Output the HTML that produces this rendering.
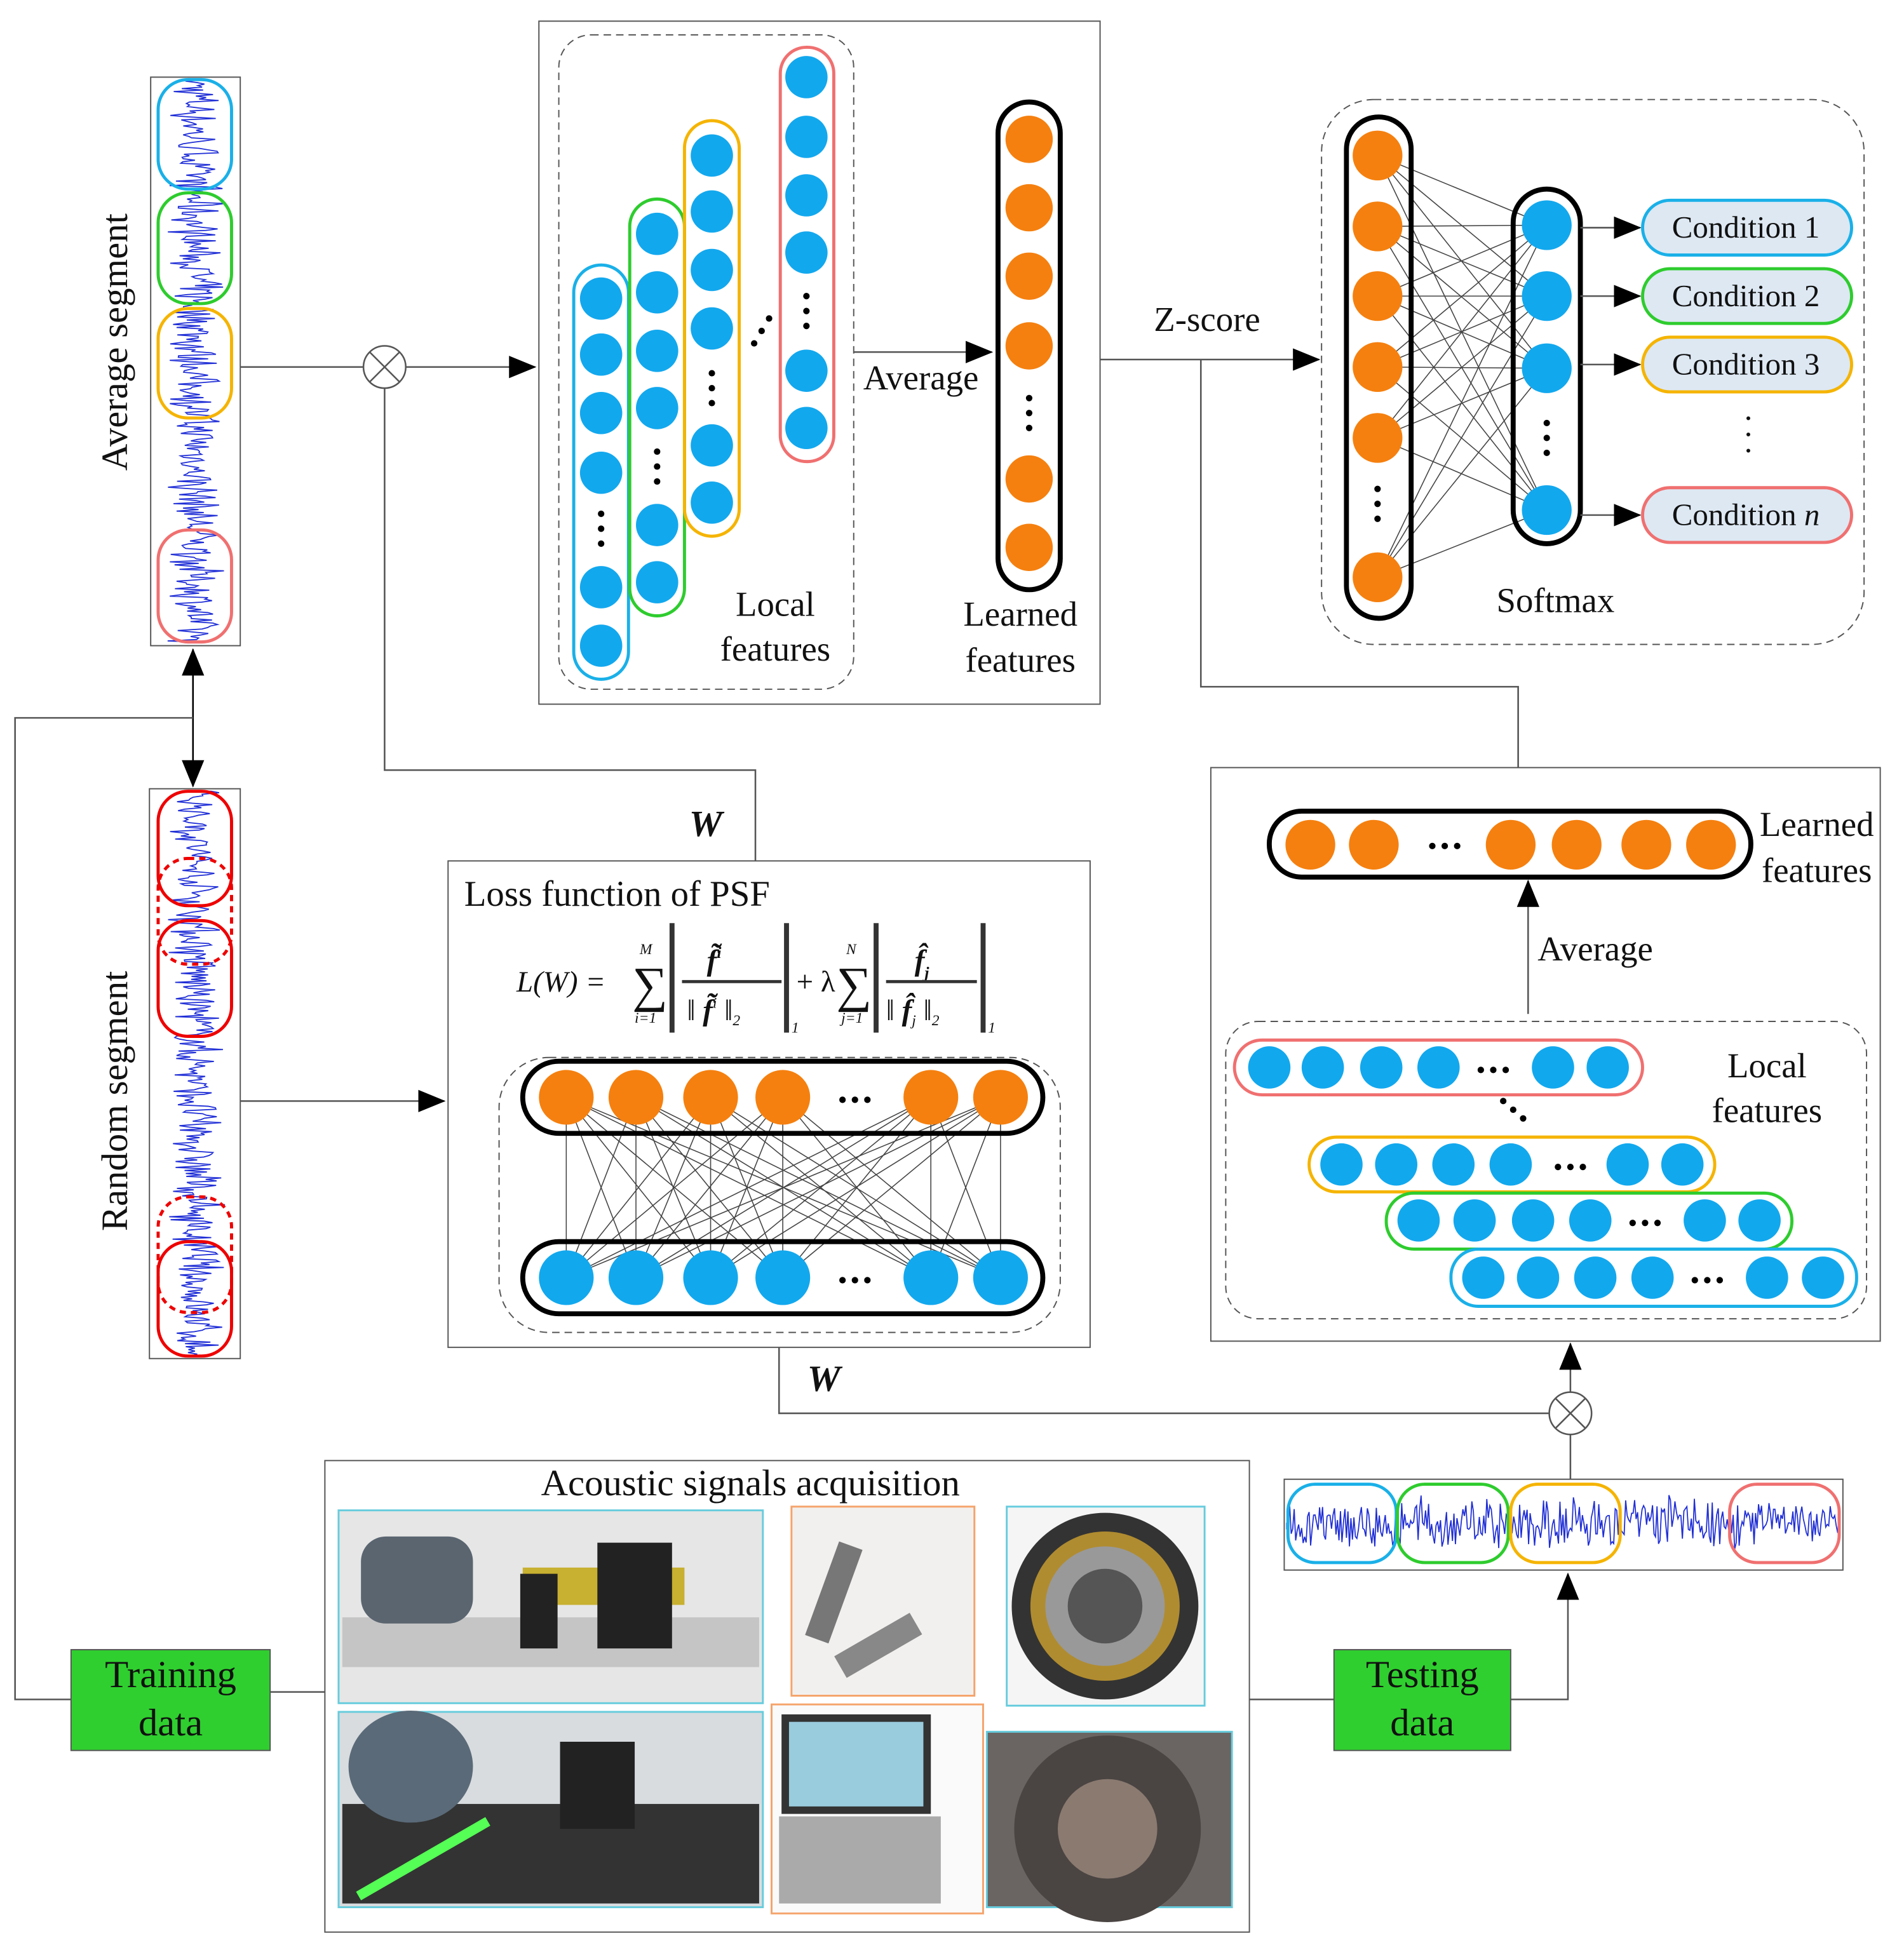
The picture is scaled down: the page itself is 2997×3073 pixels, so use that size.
<!DOCTYPE html>
<html><head><meta charset="utf-8"><style>
html,body{margin:0;padding:0;background:#fff}
svg{display:block}
text{font-family:"Liberation Serif",serif;fill:#111}
</style></head><body>
<svg id="s" width="2997" height="3073" viewBox="0 0 1530 1569" xmlns="http://www.w3.org/2000/svg" font-family="Liberation Serif, serif">
<defs>
<marker id="ab" markerWidth="22" markerHeight="18" refX="21" refY="9" orient="auto" markerUnits="userSpaceOnUse"><path d="M0,0 L22,9 L0,18 Z" fill="#000"/></marker>
</defs>
<rect width="1530" height="1569" fill="#fff"/>
<g id="lines" stroke="#555" stroke-width="1.3" fill="none">
<line x1="193" y1="295" x2="292" y2="295"/>
<line x1="326" y1="295" x2="430" y2="295" marker-end="url(#ab)"/>
<polyline points="309,312 309,619 607,619 607,692"/>
<line x1="155" y1="522" x2="155" y2="632" stroke="#000" marker-end="url(#ab)"/>
<line x1="155" y1="632" x2="155" y2="522" stroke="#000" marker-end="url(#ab)"/>
<polyline points="155,577 12,577 12,1366 57,1366"/>
<line x1="193" y1="885" x2="357" y2="885" marker-end="url(#ab)"/>
<line x1="686" y1="283" x2="797" y2="283" marker-end="url(#ab)"/>
<line x1="884" y1="289" x2="1060" y2="289" marker-end="url(#ab)"/>
<polyline points="965,289 965,552 1220,552 1220,617"/>
<polyline points="626,1083 626,1136 1245,1136"/>
<line x1="1262" y1="1119" x2="1262" y2="1080" marker-end="url(#ab)"/>
<line x1="1262" y1="1153" x2="1262" y2="1189"/>
<polyline points="1214,1366 1260,1366 1260,1265" marker-end="url(#ab)"/>
<line x1="1004" y1="1366" x2="1072" y2="1366"/>
<line x1="217" y1="1360" x2="261" y2="1360"/>
</g>
<g stroke="#555" stroke-width="1.3" fill="#fff">
<circle cx="309" cy="295" r="17"/><path d="M297,283 L321,307 M321,283 L297,307"/>
<circle cx="1262" cy="1136" r="17"/><path d="M1250,1124 L1274,1148 M1274,1124 L1250,1148"/>
</g>
<rect x="121" y="62" width="72" height="457" fill="#fff" stroke="#555"/>
<rect x="120" y="634" width="73" height="458" fill="#fff" stroke="#555"/>
<rect x="1032" y="1189" width="449" height="73" fill="#fff" stroke="#555"/>
<g id="waves" fill="none" stroke="#1f2ed6" stroke-width="0.9"></g>
<g fill="none" stroke-width="2.5">
<rect x="127" y="64" width="59" height="88" rx="24" stroke="#1ab0e8"/>
<rect x="127" y="155" width="59" height="89" rx="24" stroke="#2ecc2e"/>
<rect x="127" y="248" width="59" height="88" rx="24" stroke="#f5b400"/>
<rect x="127" y="426" width="59" height="90" rx="24" stroke="#f07070"/>
<rect x="127" y="636" width="59" height="92" rx="24" stroke="#e00"/>
<rect x="127" y="740" width="59" height="93" rx="24" stroke="#e00"/>
<rect x="127" y="998" width="59" height="92" rx="24" stroke="#e00"/>
<rect x="127" y="690" width="59" height="85" rx="24" stroke="#e00" stroke-dasharray="5,4"/>
<rect x="127" y="962" width="59" height="93" rx="24" stroke="#e00" stroke-dasharray="5,4"/>
<rect x="1035" y="1193" width="87" height="63" rx="22" stroke="#1ab0e8"/>
<rect x="1123" y="1193" width="89" height="63" rx="22" stroke="#2ecc2e"/>
<rect x="1214" y="1193" width="88" height="63" rx="22" stroke="#f5b400"/>
<rect x="1390" y="1193" width="88" height="63" rx="22" stroke="#f07070"/>
</g>
<text transform="translate(102,275) rotate(-90)" font-size="30" text-anchor="middle">Average segment</text>
<text transform="translate(102,885) rotate(-90)" font-size="30" text-anchor="middle">Random segment</text>
<rect x="433" y="17" width="451" height="549" fill="none" stroke="#555"/>
<rect x="449" y="28" width="237" height="526" rx="26" fill="none" stroke="#555" stroke-dasharray="6,4"/>
<g fill="none" stroke-width="2.5">
<rect x="461" y="213" width="44" height="333" rx="22" stroke="#1ab0e8"/>
<rect x="506" y="160" width="44" height="335" rx="22" stroke="#2ecc2e"/>
<rect x="550" y="97" width="44" height="334" rx="22" stroke="#f5b400"/>
<rect x="627" y="38" width="43" height="333" rx="21" stroke="#f07070"/>
</g>
<g id="circ"></g>
<text x="623" y="495" font-size="28" text-anchor="middle">Local</text>
<text x="623" y="531" font-size="28" text-anchor="middle">features</text>
<text x="740" y="313" font-size="28" text-anchor="middle">Average</text>
<rect x="802" y="82" width="50" height="392" rx="25" fill="none" stroke="#000" stroke-width="4"/>
<text x="820" y="503" font-size="28" text-anchor="middle">Learned</text>
<text x="820" y="540" font-size="28" text-anchor="middle">features</text>
<text x="970" y="266" font-size="28" text-anchor="middle">Z-score</text>
<rect x="1062" y="80" width="436" height="438" rx="42" fill="none" stroke="#555" stroke-dasharray="6,4"/>
<g id="fc" stroke="#444" stroke-width="0.8"></g>
<rect x="1082" y="94" width="52" height="403" rx="26" fill="none" stroke="#000" stroke-width="4"/>
<rect x="1216" y="152" width="54" height="285" rx="27" fill="none" stroke="#000" stroke-width="4"/>
<g stroke="#555" stroke-width="1.3">
<line x1="1270" y1="183" x2="1318" y2="183" marker-end="url(#ab)"/>
<line x1="1270" y1="238" x2="1318" y2="238" marker-end="url(#ab)"/>
<line x1="1270" y1="293" x2="1318" y2="293" marker-end="url(#ab)"/>
<line x1="1270" y1="414" x2="1318" y2="414" marker-end="url(#ab)"/>
</g>
<g stroke-width="2.5" fill="#dde8f3">
<rect x="1320" y="161" width="168" height="44" rx="22" stroke="#1ab0e8"/>
<rect x="1320" y="216" width="168" height="44" rx="22" stroke="#2ecc2e"/>
<rect x="1320" y="271" width="168" height="44" rx="22" stroke="#f5b400"/>
<rect x="1320" y="392" width="168" height="44" rx="22" stroke="#f07070"/>
</g>
<g font-size="25" text-anchor="middle">
<text x="1403" y="191">Condition 1</text>
<text x="1403" y="246">Condition 2</text>
<text x="1403" y="301">Condition 3</text>
<text x="1403" y="422">Condition <tspan font-style="italic">n</tspan></text>
</g>
<text x="1405" y="345" font-size="26" text-anchor="middle">·</text>
<text x="1405" y="358" font-size="26" text-anchor="middle">·</text>
<text x="1405" y="371" font-size="26" text-anchor="middle">·</text>
<text x="1250" y="492" font-size="28" text-anchor="middle">Softmax</text>
<text x="567" y="672" font-size="30" font-weight="bold" font-style="italic" text-anchor="middle">W</text>
<text x="662" y="1118" font-size="30" font-weight="bold" font-style="italic" text-anchor="middle">W</text>
<rect x="360" y="692" width="516" height="391" fill="#fff" stroke="#555"/>
<text x="373" y="728" font-size="29">Loss function of PSF</text>
<g font-style="italic" font-size="24">
<text x="415" y="797">L(W) =</text>
<text x="508" y="805" font-size="40" font-style="normal">∑</text>
<text x="514" y="767" font-size="12">M</text>
<text x="510" y="822" font-size="12">i=1</text>
<line x1="540" y1="742" x2="540" y2="830" stroke="#333" stroke-width="4"/>
<text x="568" y="780" font-weight="bold">f̃<tspan font-size="13" dy="-10">i</tspan></text>
<line x1="548" y1="789" x2="628" y2="789" stroke="#333" stroke-width="2.5"/>
<text x="552" y="820">‖ <tspan font-weight="bold">f̃</tspan><tspan font-size="12" dy="-10">i</tspan><tspan dy="10"> ‖</tspan><tspan font-size="12" dy="4">2</tspan></text>
<line x1="632" y1="742" x2="632" y2="830" stroke="#333" stroke-width="4"/>
<text x="636" y="830" font-size="12">1</text>
<text x="640" y="797" font-style="normal">+ λ</text>
<text x="672" y="805" font-size="40" font-style="normal">∑</text>
<text x="680" y="767" font-size="12">N</text>
<text x="676" y="822" font-size="12">j=1</text>
<line x1="704" y1="742" x2="704" y2="830" stroke="#333" stroke-width="4"/>
<text x="735" y="780" font-weight="bold">f̂<tspan font-size="13" dy="6">j</tspan></text>
<line x1="712" y1="789" x2="785" y2="789" stroke="#333" stroke-width="2.5"/>
<text x="712" y="820">‖ <tspan font-weight="bold">f̂</tspan><tspan font-size="12" dy="4">j</tspan><tspan dy="-4"> ‖</tspan><tspan font-size="12" dy="4">2</tspan></text>
<line x1="790" y1="742" x2="790" y2="830" stroke="#333" stroke-width="4"/>
<text x="794" y="830" font-size="12">1</text>
</g>
<rect x="401" y="850" width="451" height="221" rx="40" fill="none" stroke="#555" stroke-dasharray="6,4"/>
<g id="ae" stroke="#444" stroke-width="0.8"></g>
<rect x="420" y="853" width="418" height="58" rx="29" fill="none" stroke="#000" stroke-width="4"/>
<rect x="420" y="998" width="418" height="58" rx="29" fill="none" stroke="#000" stroke-width="4"/>
<rect x="973" y="617" width="538" height="461" fill="#fff" stroke="#555"/>
<rect x="1020" y="652" width="387" height="53" rx="26" fill="none" stroke="#000" stroke-width="4"/>
<text x="1460" y="672" font-size="28" text-anchor="middle">Learned</text>
<text x="1460" y="709" font-size="28" text-anchor="middle">features</text>
<line x1="1228" y1="815" x2="1228" y2="708" stroke="#555" stroke-width="1.3" marker-end="url(#ab)"/>
<text x="1282" y="772" font-size="28" text-anchor="middle">Average</text>
<rect x="985" y="821" width="515" height="239" rx="26" fill="none" stroke="#555" stroke-dasharray="6,4"/>
<g fill="none" stroke-width="2.5">
<rect x="992" y="836" width="328" height="44" rx="22" stroke="#f07070"/>
<rect x="1052" y="914" width="326" height="44" rx="22" stroke="#f5b400"/>
<rect x="1114" y="959" width="326" height="45" rx="22" stroke="#2ecc2e"/>
<rect x="1166" y="1004" width="326" height="46" rx="22" stroke="#1ab0e8"/>
</g>
<text x="1420" y="866" font-size="28" text-anchor="middle">Local</text>
<text x="1420" y="902" font-size="28" text-anchor="middle">features</text>
<rect x="261" y="1174" width="743" height="379" fill="#fff" stroke="#555"/>
<text x="603" y="1202" font-size="30" text-anchor="middle">Acoustic signals acquisition</text>
<g stroke-width="1.5">
<rect x="272" y="1214" width="341" height="155" fill="#e6e6e6" stroke="#6cd"/>
<rect x="636" y="1211" width="147" height="152" fill="#f2f0ee" stroke="#f5a36a"/>
<rect x="809" y="1211" width="159" height="160" fill="#f5f5f5" stroke="#6cd"/>
<rect x="272" y="1376" width="341" height="157" fill="#d8dcdf" stroke="#6cd"/>
<rect x="620" y="1370" width="170" height="168" fill="#fafafa" stroke="#f5a36a"/>
<rect x="793" y="1392" width="197" height="141" fill="#6a6462" stroke="#6cd"/>
</g>
<rect x="275" y="1300" width="335" height="40" fill="#c5c5c5"/>
<rect x="290" y="1235" width="90" height="70" rx="20" fill="#5a6570"/>
<rect x="420" y="1260" width="130" height="30" fill="#c8b030"/>
<rect x="480" y="1240" width="60" height="85" fill="#222"/>
<rect x="418" y="1265" width="30" height="60" fill="#222"/>
<rect x="660" y="1240" width="20" height="80" fill="#777" transform="rotate(20 670 1280)"/>
<rect x="700" y="1290" width="20" height="70" fill="#888" transform="rotate(60 710 1320)"/>
<circle cx="888" cy="1291" r="75" fill="#333"/><circle cx="888" cy="1291" r="60" fill="#b08c30"/><circle cx="888" cy="1291" r="48" fill="#999"/><circle cx="888" cy="1291" r="30" fill="#555"/>
<rect x="275" y="1450" width="335" height="80" fill="#333"/>
<ellipse cx="330" cy="1420" rx="50" ry="45" fill="#5a6a78"/>
<rect x="450" y="1400" width="60" height="70" fill="#222"/>
<rect x="280" y="1490" width="120" height="8" fill="#5f5" transform="rotate(-30 340 1494)"/>
<rect x="628" y="1378" width="120" height="80" fill="#333"/><rect x="634" y="1384" width="108" height="68" fill="#9cd"/>
<rect x="626" y="1460" width="130" height="70" fill="#aaa"/>
<circle cx="890" cy="1470" r="75" fill="#4a4442"/><circle cx="890" cy="1470" r="40" fill="#8a7a70"/>
<rect x="57" y="1326" width="160" height="81" fill="#2fcf2f" stroke="#555"/>
<text x="137" y="1356" font-size="31" text-anchor="middle">Training</text>
<text x="137" y="1395" font-size="31" text-anchor="middle">data</text>
<rect x="1072" y="1326" width="142" height="81" fill="#2fcf2f" stroke="#555"/>
<text x="1143" y="1356" font-size="31" text-anchor="middle">Testing</text>
<text x="1143" y="1395" font-size="31" text-anchor="middle">data</text>
</svg>
<script>
(function(){
var NS="http://www.w3.org/2000/svg";
function el(p,t,a){var e=document.createElementNS(NS,t);for(var k in a)e.setAttribute(k,a[k]);p.appendChild(e);return e;}
var seed=7;function rnd(){seed=(seed*16807)%2147483647;return seed/2147483647;}
var w=document.getElementById('waves');
function vwave(cx,y0,y1,amp){var d="M"+cx+","+y0;for(var y=y0;y<=y1;y+=1.2){var a=amp*(0.4+0.6*rnd());d+=" L"+(cx+(rnd()*2-1)*a).toFixed(1)+","+y.toFixed(1);}el(w,'path',{d:d});}
function hwave(cy,x0,x1,amp){var d="M"+x0+","+cy;for(var x=x0;x<=x1;x+=1.2){var a=amp*(0.4+0.6*rnd());d+=" L"+x.toFixed(1)+","+(cy+(rnd()*2-1)*a).toFixed(1);}el(w,'path',{d:d});}
vwave(157,64,517,24);vwave(157,636,1090,24);hwave(1224,1034,1479,24);
var c=document.getElementById('circ');var svg=document.getElementById('s');
function dot(g,x,y,r,col){el(g,'circle',{cx:x,cy:y,r:r,fill:col});}
function vdots(x,y){for(var i=-1;i<=1;i++)dot(svg,x,y+i*12,2.6,'#000');}
function hdots(x,y){for(var i=-1;i<=1;i++)dot(svg,x+i*10,y,2.6,'#000');}
var B='#12a8ee',O='#f5800f';
[240,285,332,380,472,519].forEach(function(y){dot(c,483,y,17,B)});vdots(483,425);
[188,235,282,328,422,468].forEach(function(y){dot(c,528,y,17,B)});vdots(528,375);
[125,170,217,264,358,404].forEach(function(y){dot(c,572,y,17,B)});vdots(572,312);
[62,110,157,203,298,344].forEach(function(y){dot(c,648,y,17,B)});vdots(648,250);
for(var i=0;i<3;i++)dot(svg,606+i*6,276-i*10,2.6,'#000');
[112,167,222,278,385,440].forEach(function(y){dot(c,827,y,19,O)});vdots(827,332);
var fc=document.getElementById('fc');
var ly=[125,182,238,295,352,464],ry=[181,238,296,410];
ly.forEach(function(a){ry.forEach(function(b){el(fc,'line',{x1:1107,y1:a,x2:1243,y2:b});});});
ly.forEach(function(y){dot(svg,1107,y,20,O)});vdots(1107,405);
ry.forEach(function(y){dot(svg,1243,y,20,B)});vdots(1243,352);
var ae=document.getElementById('ae');var xs=[455,511,571,629,748,804];
xs.forEach(function(a){xs.forEach(function(b){el(ae,'line',{x1:a,y1:882,x2:b,y2:1027});});});
xs.forEach(function(x){dot(svg,x,882,22,O);dot(svg,x,1027,22,B);});hdots(687,884);hdots(687,1029);
[1053,1104,1214,1267,1323,1375].forEach(function(x){dot(svg,x,679,20,O)});hdots(1161,680);
function row(xs,y,dx){xs.forEach(function(x){dot(svg,x,y,17,B)});hdots(dx,y+2);}
row([1020,1063,1110,1156,1248,1292],858,1200);
row([1078,1122,1168,1214,1308,1352],936,1262);
row([1140,1185,1232,1278,1370,1414],981,1322);
row([1192,1236,1282,1328,1420,1465],1027,1372);
for(var i=0;i<3;i++)dot(svg,1208+i*8,885+i*7,2.6,'#000');
})();
</script>
</body></html>
